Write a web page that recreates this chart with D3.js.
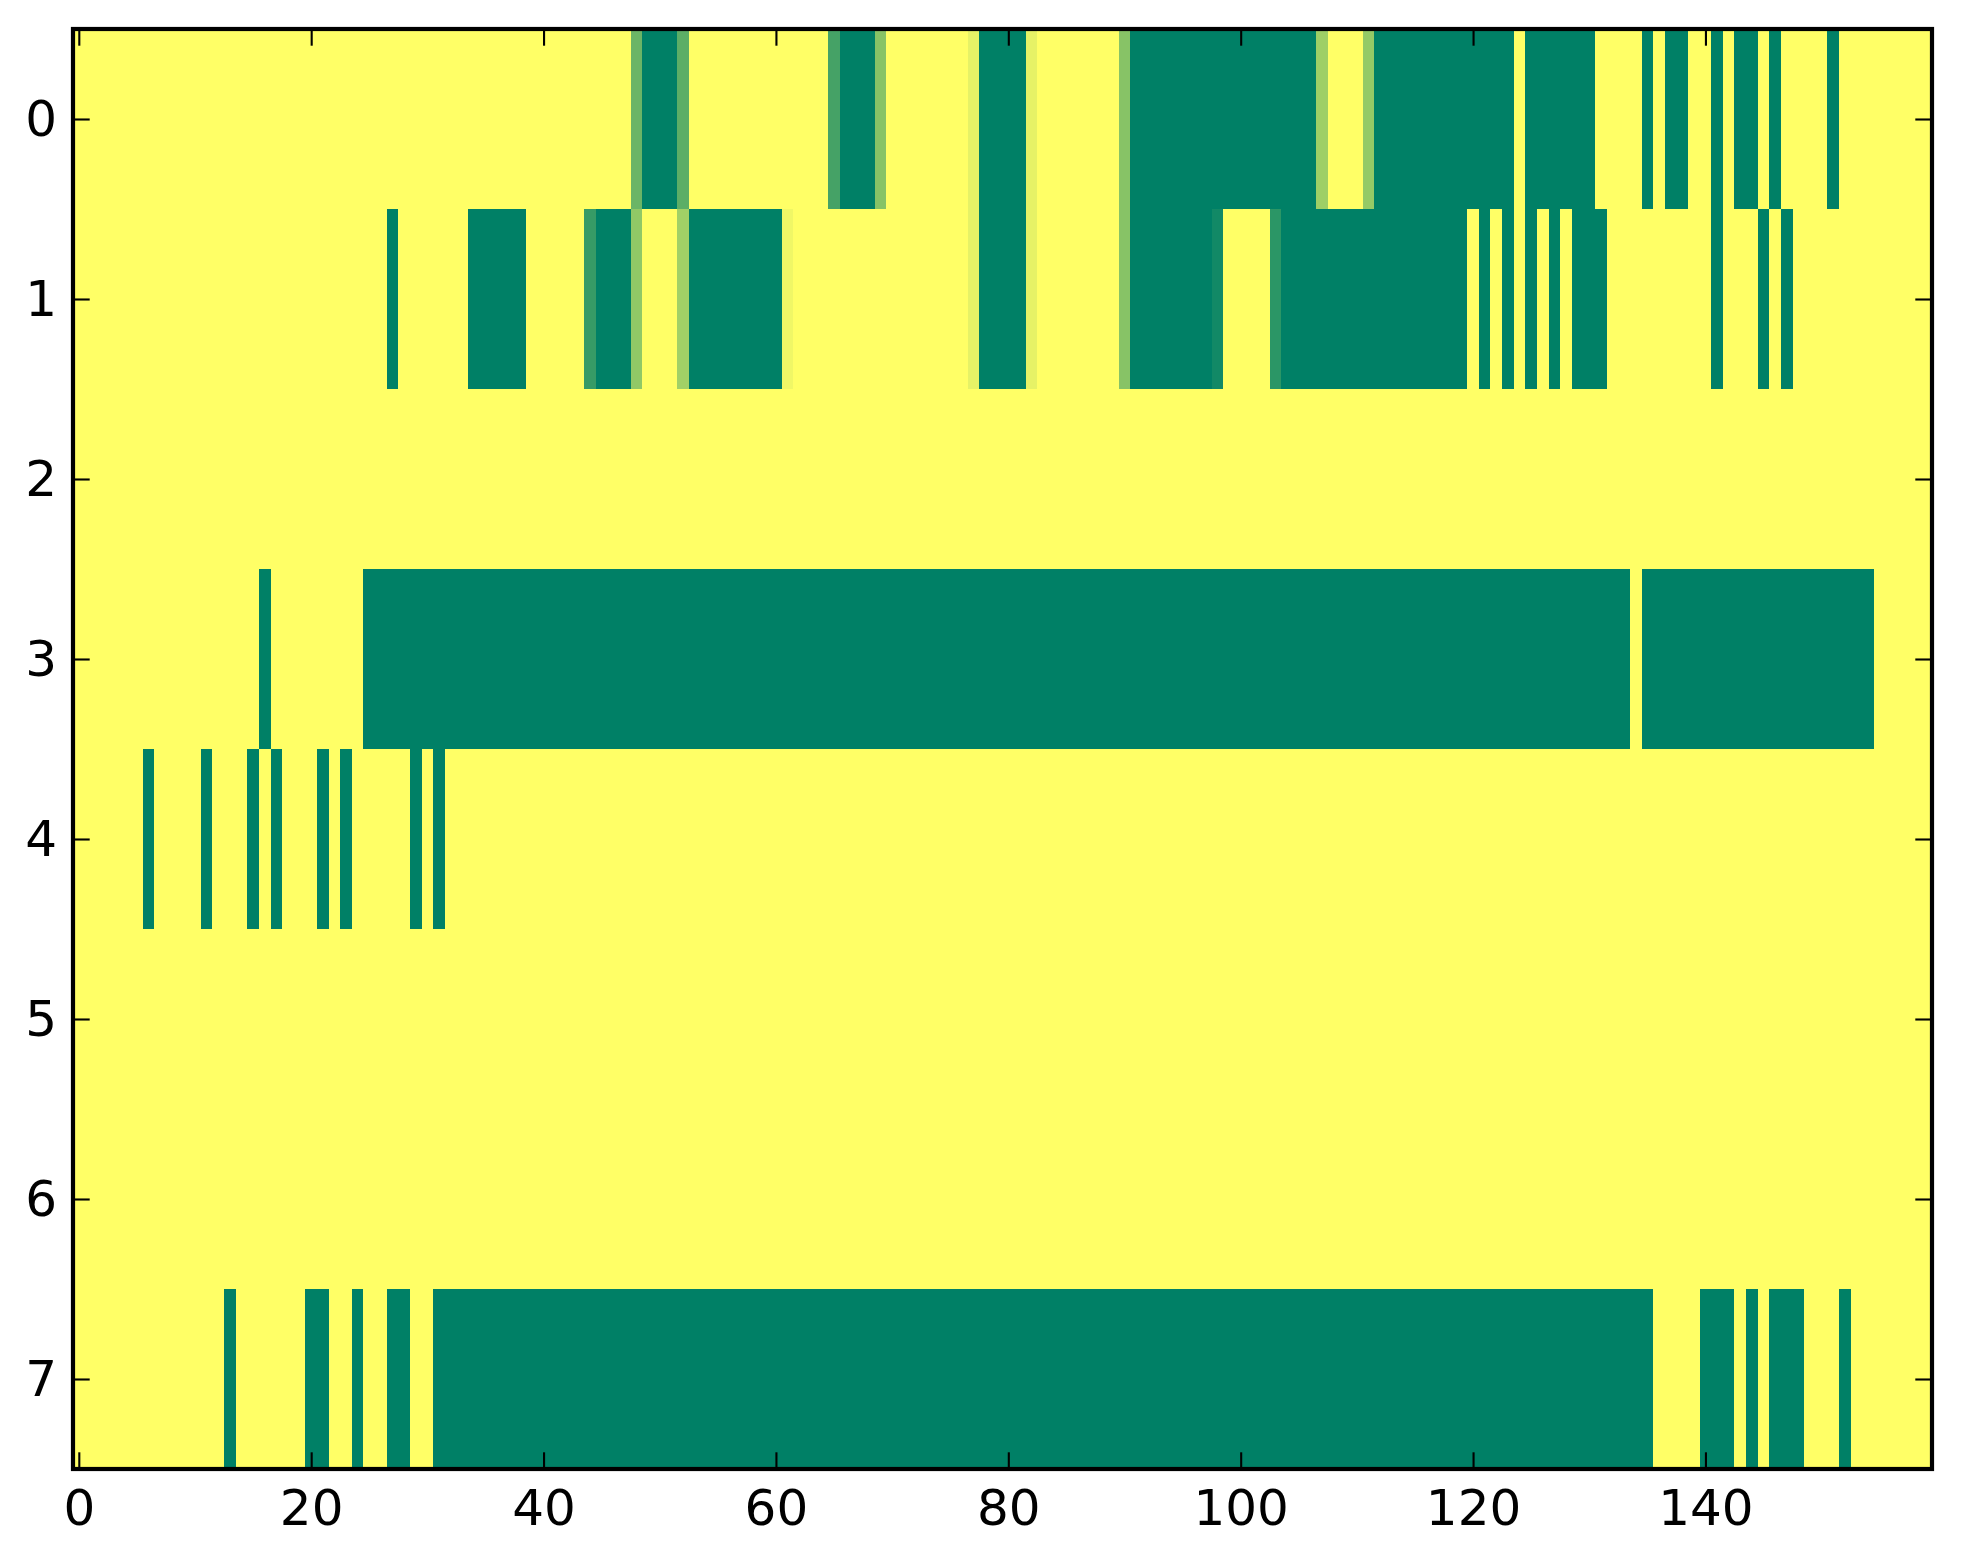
<!DOCTYPE html>
<html>
<head>
<meta charset="utf-8">
<script src="https://cdn.jsdelivr.net/npm/d3@7"></script>
<style>
  body { margin: 0; background: #fff; }
</style>
</head>
<body>
<script>
// one array per image row, 160 columns, 0 = green end, 1 = yellow end
var row0 = [
  1,1,1,1,1,1,1,1,1,1, 1,1,1,1,1,1,1,1,1,1,
  1,1,1,1,1,1,1,1,1,1, 1,1,1,1,1,1,1,1,1,1,
  1,1,1,1,1,1,1,1,.42,0, 0,0,.36,1,1,1,1,1,1,1,
  1,1,1,1,1,.27,0,0,0,.53, 1,1,1,1,1,1,1,.9,0,0,
  0,0,.9,1,1,1,1,1,1,1, .53,0,0,0,0,0,0,0,0,0,
  0,0,0,0,0,0,0,.62,1,1, 1,.58,0,0,0,0,0,0,0,0,
  0,0,0,0,1,0,0,0,0,0, 0,1,1,1,1,0,1,0,0,1,
  1,0,1,0,0,1,0,1,1,1, 1,0,1,1,1,1,1,1,1,1
];
var row1 = [
  1,1,1,1,1,1,1,1,1,1, 1,1,1,1,1,1,1,1,1,1,
  1,1,1,1,1,1,1,0,1,1, 1,1,1,1,0,0,0,0,0,1,
  1,1,1,1,.21,0,0,0,.57,1, 1,1,.63,0,0,0,0,0,0,0,
  0,.94,1,1,1,1,1,1,1,1, 1,1,1,1,1,1,1,.9,0,0,
  0,0,.9,1,1,1,1,1,1,1, .53,0,0,0,0,0,0,0,.07,1,
  1,1,1,.17,0,0,0,0,0,0, 0,0,0,0,0,0,0,0,0,0,
  1,0,1,0,1,0,1,0,1,0, 0,0,1,1,1,1,1,1,1,1,
  1,0,1,1,1,0,1,0,1,1, 1,1,1,1,1,1,1,1,1,1
];
var row2 = [
  1,1,1,1,1,1,1,1,1,1, 1,1,1,1,1,1,1,1,1,1,
  1,1,1,1,1,1,1,1,1,1, 1,1,1,1,1,1,1,1,1,1,
  1,1,1,1,1,1,1,1,1,1, 1,1,1,1,1,1,1,1,1,1,
  1,1,1,1,1,1,1,1,1,1, 1,1,1,1,1,1,1,1,1,1,
  1,1,1,1,1,1,1,1,1,1, 1,1,1,1,1,1,1,1,1,1,
  1,1,1,1,1,1,1,1,1,1, 1,1,1,1,1,1,1,1,1,1,
  1,1,1,1,1,1,1,1,1,1, 1,1,1,1,1,1,1,1,1,1,
  1,1,1,1,1,1,1,1,1,1, 1,1,1,1,1,1,1,1,1,1
];
var row3 = [
  1,1,1,1,1,1,1,1,1,1, 1,1,1,1,1,1,0,1,1,1,
  1,1,1,1,1,0,0,0,0,0, 0,0,0,0,0,0,0,0,0,0,
  0,0,0,0,0,0,0,0,0,0, 0,0,0,0,0,0,0,0,0,0,
  0,0,0,0,0,0,0,0,0,0, 0,0,0,0,0,0,0,0,0,0,
  0,0,0,0,0,0,0,0,0,0, 0,0,0,0,0,0,0,0,0,0,
  0,0,0,0,0,0,0,0,0,0, 0,0,0,0,0,0,0,0,0,0,
  0,0,0,0,0,0,0,0,0,0, 0,0,0,0,1,0,0,0,0,0,
  0,0,0,0,0,0,0,0,0,0, 0,0,0,0,0,1,1,1,1,1
];
var row4 = [
  1,1,1,1,1,1,0,1,1,1, 1,0,1,1,1,0,1,0,1,1,
  1,0,1,0,1,1,1,1,1,0, 1,0,1,1,1,1,1,1,1,1,
  1,1,1,1,1,1,1,1,1,1, 1,1,1,1,1,1,1,1,1,1,
  1,1,1,1,1,1,1,1,1,1, 1,1,1,1,1,1,1,1,1,1,
  1,1,1,1,1,1,1,1,1,1, 1,1,1,1,1,1,1,1,1,1,
  1,1,1,1,1,1,1,1,1,1, 1,1,1,1,1,1,1,1,1,1,
  1,1,1,1,1,1,1,1,1,1, 1,1,1,1,1,1,1,1,1,1,
  1,1,1,1,1,1,1,1,1,1, 1,1,1,1,1,1,1,1,1,1
];
var row5 = [
  1,1,1,1,1,1,1,1,1,1, 1,1,1,1,1,1,1,1,1,1,
  1,1,1,1,1,1,1,1,1,1, 1,1,1,1,1,1,1,1,1,1,
  1,1,1,1,1,1,1,1,1,1, 1,1,1,1,1,1,1,1,1,1,
  1,1,1,1,1,1,1,1,1,1, 1,1,1,1,1,1,1,1,1,1,
  1,1,1,1,1,1,1,1,1,1, 1,1,1,1,1,1,1,1,1,1,
  1,1,1,1,1,1,1,1,1,1, 1,1,1,1,1,1,1,1,1,1,
  1,1,1,1,1,1,1,1,1,1, 1,1,1,1,1,1,1,1,1,1,
  1,1,1,1,1,1,1,1,1,1, 1,1,1,1,1,1,1,1,1,1
];
var row6 = [
  1,1,1,1,1,1,1,1,1,1, 1,1,1,1,1,1,1,1,1,1,
  1,1,1,1,1,1,1,1,1,1, 1,1,1,1,1,1,1,1,1,1,
  1,1,1,1,1,1,1,1,1,1, 1,1,1,1,1,1,1,1,1,1,
  1,1,1,1,1,1,1,1,1,1, 1,1,1,1,1,1,1,1,1,1,
  1,1,1,1,1,1,1,1,1,1, 1,1,1,1,1,1,1,1,1,1,
  1,1,1,1,1,1,1,1,1,1, 1,1,1,1,1,1,1,1,1,1,
  1,1,1,1,1,1,1,1,1,1, 1,1,1,1,1,1,1,1,1,1,
  1,1,1,1,1,1,1,1,1,1, 1,1,1,1,1,1,1,1,1,1
];
var row7 = [
  1,1,1,1,1,1,1,1,1,1, 1,1,1,0,1,1,1,1,1,1,
  0,0,1,1,0,1,1,0,0,1, 1,0,0,0,0,0,0,0,0,0,
  0,0,0,0,0,0,0,0,0,0, 0,0,0,0,0,0,0,0,0,0,
  0,0,0,0,0,0,0,0,0,0, 0,0,0,0,0,0,0,0,0,0,
  0,0,0,0,0,0,0,0,0,0, 0,0,0,0,0,0,0,0,0,0,
  0,0,0,0,0,0,0,0,0,0, 0,0,0,0,0,0,0,0,0,0,
  0,0,0,0,0,0,0,0,0,0, 0,0,0,0,0,0,1,1,1,1,
  0,0,0,1,0,1,0,0,0,1, 1,1,0,1,1,1,1,1,1,1
];
var rows = [row0, row1, row2, row3, row4, row5, row6, row7];
var rowLabels = ["0", "1", "2", "3", "4", "5", "6", "7"];
var xTicks = [0, 20, 40, 60, 80, 100, 120, 140];

var width = 1963, height = 1564;
var plot = {left: 73, right: 1932, top: 29, bottom: 1469};
var tickLen = 16.7;

var xscale = d3.scaleLinear()
    .domain([-0.5, row0.length - 0.5])
    .range([plot.left, plot.right]);
var yscale = d3.scaleLinear()
    .domain([-0.5, rows.length - 0.5])
    .range([plot.top, plot.bottom]);
// matplotlib "summer": (t, 0.5 + t/2, 0.4)
var color = d3.scaleSequential(d3.interpolateRgb("rgb(0,128,102)", "rgb(255,255,102)"))
    .domain([0, 1]);

const svg = d3.select("body")
    .append("svg")
    .attr("width", width)
    .attr("height", height)
    .attr("viewBox", [0, 0, width, height]);

var cells = [];
rows.forEach((r, ri) => r.forEach((v, ci) => cells.push({r: ri, c: ci, v: v})));

svg.append("g")
    .attr("shape-rendering", "crispEdges")
  .selectAll("rect")
  .data(cells)
  .join("rect")
    .attr("x", d => xscale(d.c - 0.5))
    .attr("y", d => yscale(d.r - 0.5))
    .attr("width", d => xscale(d.c + 0.5) - xscale(d.c - 0.5))
    .attr("height", d => yscale(d.r + 0.5) - yscale(d.r - 0.5))
    .attr("fill", d => color(d.v));

function styleAxis(g) {
  g.select(".domain").remove();
  g.selectAll(".tick line").attr("stroke", "#000").attr("stroke-width", 2.1);
  g.attr("font-family", "'DejaVu Sans', sans-serif")
   .attr("font-size", 50);
  g.selectAll(".tick text").attr("fill", "#000");
}

// x-axis, bottom with labels, top ticks only
svg.append("g")
    .attr("transform", `translate(0,${plot.bottom})`)
    .call(d3.axisBottom(xscale).tickValues(xTicks).tickSize(-tickLen).tickPadding(20))
    .call(styleAxis);
svg.append("g")
    .attr("transform", `translate(0,${plot.top})`)
    .call(d3.axisTop(xscale).tickValues(xTicks).tickSize(-tickLen).tickFormat(""))
    .call(styleAxis);

// y-axis, left with labels, right ticks only
svg.append("g")
    .attr("transform", `translate(${plot.left},0)`)
    .call(d3.axisLeft(yscale).tickValues(d3.range(rows.length))
        .tickFormat(d => rowLabels[d]).tickSize(-tickLen).tickPadding(16))
    .call(styleAxis);
svg.append("g")
    .attr("transform", `translate(${plot.right},0)`)
    .call(d3.axisRight(yscale).tickValues(d3.range(rows.length))
        .tickSize(-tickLen).tickFormat(""))
    .call(styleAxis);

// frame
svg.append("rect")
    .attr("x", plot.left)
    .attr("y", plot.top)
    .attr("width", plot.right - plot.left)
    .attr("height", plot.bottom - plot.top)
    .attr("fill", "none")
    .attr("stroke", "#000")
    .attr("stroke-width", 4.2);
</script>
</body>
</html>
